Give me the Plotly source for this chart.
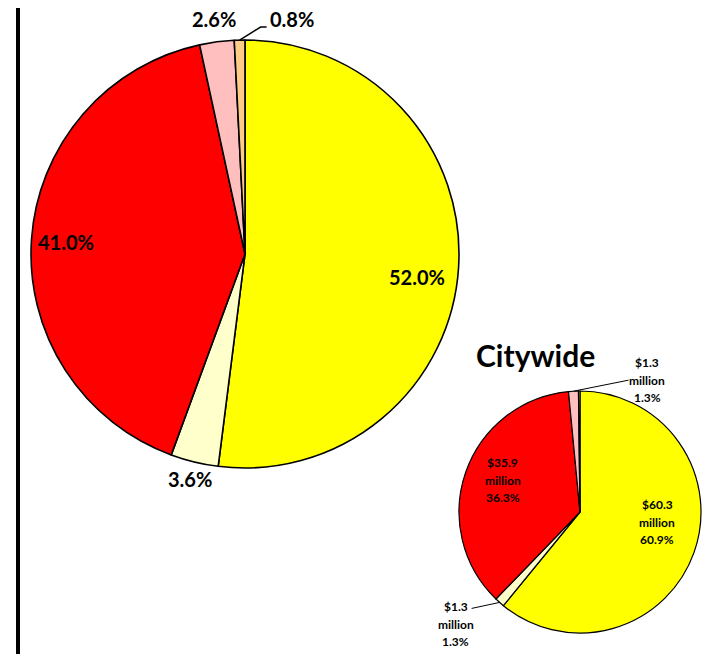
import math
import plotly.graph_objects as go

W, H = 713, 654
OFF = 8  # page body margin
FW, FH = W - OFF, H - OFF

# Data
categories = ["Cat A", "Cat B", "Cat C", "Cat D", "Cat E"]
colors = ["#FFFF00", "#FFFFCC", "#FF0000", "#FFBFBF", "#FFCC88"]
main_pct = [52.0, 3.6, 41.0, 2.6, 0.8]
city_millions = [60.3, 1.3, 35.9, 1.3, 0.2]
city_pct = [60.9, 1.3, 36.3, 1.3, 0.2]
city_title = "Citywide"

FONT = "Lato"

# geometry (pixels, in screenshot coordinates)
big_c, big_r = (245, 254), 214
sm_c, sm_r = (580, 512), 121


def px(x):
    return (x - OFF) / FW


def py(y):
    return 1 - (y - OFF) / FH


def dom(c, r):
    return dict(x=[px(c[0] - r), px(c[0] + r)], y=[py(c[1] + r), py(c[1] - r)])


def mid_angles(vals):
    tot = sum(vals)
    out, cum = [], 0
    for v in vals:
        out.append((cum + v / 2) / tot * 360)
        cum += v
    return out


def polar(c, r, ang, k):
    a = math.radians(ang)
    return c[0] + k * r * math.sin(a), c[1] - k * r * math.cos(a)


def label(x, y, text, size, xanchor="center"):
    return dict(x=px(x), y=py(y), xref="paper", yref="paper", xanchor=xanchor,
                yanchor="middle", text=text, showarrow=False,
                font=dict(family=FONT, size=size, color="black"))


fig = go.Figure()
fig.add_trace(go.Pie(
    labels=categories, values=main_pct, sort=False, direction="clockwise",
    marker=dict(colors=colors, line=dict(color="black", width=1.6)),
    textinfo="none", hoverinfo="label+percent", showlegend=False,
    domain=dom(big_c, big_r),
))
fig.add_trace(go.Pie(
    labels=categories, values=city_millions, sort=False, direction="clockwise",
    marker=dict(colors=colors, line=dict(color="black", width=1.2)),
    textinfo="none", hoverinfo="label+percent", showlegend=False,
    domain=dom(sm_c, sm_r),
))

ann = []
shapes = []

BIG_FS = 20
big_ang = mid_angles(main_pct)
big_place = [(0.81, 4), (1.08, 0), (0.84, 0), (1.11, 0), None]
for i, p in enumerate(big_place):
    if p is None:
        continue
    k, off = p
    x, y = polar(big_c, big_r, big_ang[i] + off, k)
    ann.append(label(x, y, f"<b>{main_pct[i]:.1f}%</b>", BIG_FS))
# 0.8% with leader
x0, y0 = polar(big_c, big_r, big_ang[4], 1.0)
x1, y1 = x0 + 21, y0 - 13
x2 = x1 + 6
shapes.append(dict(type="path", xref="paper", yref="paper",
                   path=f"M {px(x0)},{py(y0)} L {px(x1)},{py(y1)} L {px(x2)},{py(y1)}",
                   line=dict(color="black", width=1.5)))
ann.append(label(x2 + 1, y1 - 8, f"<b>{main_pct[4]:.1f}%</b>", BIG_FS, "left"))

# small pie labels (three lines each, 17.5px apart)
SM_FS = 12
LINE = 17.5
sm_ang = mid_angles(city_millions)


def sm_label(i, x, y):
    lines = [f"<b>${city_millions[i]:.1f}</b>", "<b>million</b>",
             f"<b>{city_pct[i]:.1f}%</b>"]
    for j, t in enumerate(lines):
        ann.append(label(x, y + (j - 1) * LINE, t, SM_FS))


for i, k, off in [(0, 0.645, -12), (2, 0.69, 3)]:
    x, y = polar(sm_c, sm_r, sm_ang[i] + off, k)
    sm_label(i, x, y)

# top small slice (pink) with leader
xa, ya = polar(sm_c, sm_r, sm_ang[3], 1.0)
shapes.append(dict(type="line", xref="paper", yref="paper",
                   x0=px(xa), y0=py(ya), x1=px(xa + 55), y1=py(ya - 11),
                   line=dict(color="black", width=1)))
sm_label(3, xa + 74, ya - 11)
# bottom small slice (light yellow) with leader
xb, yb = polar(sm_c, sm_r, sm_ang[1], 1.0)
shapes.append(dict(type="line", xref="paper", yref="paper",
                   x0=px(xb), y0=py(yb), x1=px(xb - 28), y1=py(yb + 6),
                   line=dict(color="black", width=1)))
sm_label(1, xb - 44, yb + 22)

# Citywide title
ann.append(label(535, 355, f"<b>{city_title}</b>", 30))

# left vertical rule
shapes.append(dict(type="line", xref="paper", yref="paper",
                   x0=px(18), x1=px(18), y0=-0.02, y1=1.02,
                   line=dict(color="black", width=4)))

fig.update_layout(
    width=FW, height=FH, margin=dict(l=0, r=0, t=0, b=0),
    paper_bgcolor="white", plot_bgcolor="white",
    annotations=ann, shapes=shapes, showlegend=False,
)
fig.write_html("out.html")
